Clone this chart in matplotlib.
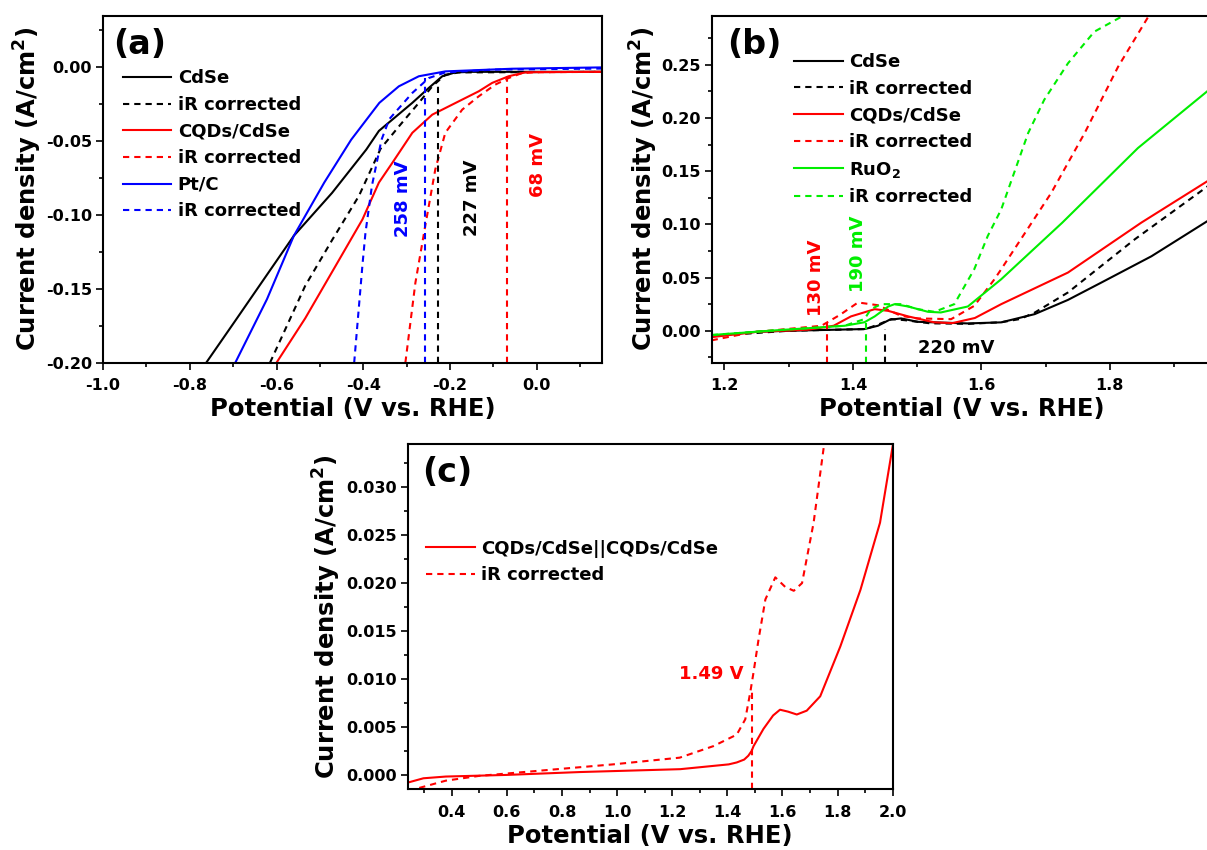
import matplotlib
matplotlib.use("Agg")
import matplotlib.pyplot as plt
from matplotlib.ticker import MultipleLocator, FormatStrFormatter

plt.rcParams['font.family'] = ['DejaVu Sans']
plt.rcParams['font.weight'] = 'bold'
plt.rcParams['axes.labelweight'] = 'bold'
plt.rcParams['axes.unicode_minus'] = False
plt.rcParams['mathtext.default'] = 'bf'

# ---- (a) HER polarisation curves ----
cdse_v = [-0.762, -0.696, -0.56, -0.472, -0.393, -0.364, -0.287, -0.249, -0.218, -0.188, -0.15, 0.15]
cdse_j = [-0.200, -0.172, -0.114, -0.085, -0.0556, -0.043, -0.024, -0.0139, -0.006, -0.0034, -0.003, -0.003]
cdse_ir_v = [-0.615, -0.534, -0.472, -0.410, -0.36, -0.318, -0.272, -0.241, -0.211, -0.18, 0.15]
cdse_ir_j = [-0.200, -0.148, -0.117, -0.087, -0.055, -0.040, -0.024, -0.0128, -0.005, -0.0034, -0.003]
cqd_v = [-0.600, -0.534, -0.463, -0.402, -0.364, -0.333, -0.287, -0.241, -0.172, -0.134, -0.103, -0.065, -0.027, 0.0, 0.15]
cqd_j = [-0.200, -0.170, -0.134, -0.103, -0.078, -0.0646, -0.0443, -0.032, -0.0218, -0.0162, -0.0105, -0.006, -0.0034, -0.0032, -0.003]
cqd_ir_v = [-0.303, -0.280, -0.257, -0.234, -0.211, -0.172, -0.134, -0.096, -0.065, -0.034, 0.0, 0.15]
cqd_ir_j = [-0.200, -0.146, -0.107, -0.069, -0.0443, -0.0286, -0.0196, -0.0117, -0.0072, -0.0038, -0.0033, -0.003]
ptc_v = [-0.695, -0.622, -0.56, -0.490, -0.428, -0.375, -0.363, -0.318, -0.272, -0.211, -0.057, 0.15]
ptc_j = [-0.200, -0.157, -0.114, -0.078, -0.049, -0.0286, -0.024, -0.0128, -0.006, -0.0027, -0.0009, 0.0]
ptc_ir_v = [-0.421, -0.402, -0.395, -0.380, -0.358, -0.340, -0.287, -0.249, -0.211, -0.10, 0.15]
ptc_ir_j = [-0.200, -0.134, -0.112, -0.080, -0.049, -0.035, -0.0173, -0.0072, -0.0034, -0.0015, -0.0008]
her_eta = [227, 68, 258]            # mV, CdSe / CQDs/CdSe / Pt/C
her_top = [-0.0095, -0.006, -0.007]

# ---- (b) OER polarisation curves ----
cdse_b_v = [1.18, 1.25, 1.30, 1.418, 1.439, 1.457, 1.475, 1.501, 1.579, 1.631, 1.683, 1.735, 1.787, 1.865, 1.96]
cdse_b_j = [-0.005, -0.001, 0.0, 0.0016, 0.0047, 0.0103, 0.0116, 0.0084, 0.0069, 0.0079, 0.0156, 0.029, 0.0453, 0.070, 0.106]
cdse_b_ir_v = [1.18, 1.30, 1.42, 1.44, 1.46, 1.48, 1.52, 1.58, 1.631, 1.66, 1.683, 1.735, 1.839, 1.96]
cdse_b_ir_j = [-0.005, 0.0, 0.0016, 0.006, 0.011, 0.010, 0.007, 0.0065, 0.008, 0.011, 0.017, 0.036, 0.0859, 0.139]
cqd_b_v = [1.18, 1.25, 1.33, 1.37, 1.397, 1.434, 1.455, 1.486, 1.527, 1.555, 1.59, 1.631, 1.735, 1.849, 1.96]
cqd_b_j = [-0.006, -0.001, 0.001, 0.0047, 0.0135, 0.0203, 0.0187, 0.0135, 0.0079, 0.0072, 0.012, 0.025, 0.0547, 0.1015, 0.1435]
cqd_b_ir_v = [1.18, 1.241, 1.351, 1.38, 1.408, 1.439, 1.475, 1.501, 1.553, 1.589, 1.620, 1.631, 1.709, 1.761, 1.813, 1.860, 1.865]
cqd_b_ir_j = [-0.009, -0.0016, 0.0047, 0.015, 0.0266, 0.024, 0.014, 0.0116, 0.0109, 0.0234, 0.048, 0.0578, 0.1296, 0.1858, 0.248, 0.295, 0.30]
ruo2_v = [1.18, 1.27, 1.387, 1.418, 1.434, 1.455, 1.465, 1.486, 1.517, 1.537, 1.579, 1.631, 1.726, 1.844, 1.96]
ruo2_j = [-0.004, 0.0, 0.0047, 0.008, 0.0135, 0.0228, 0.025, 0.0228, 0.0178, 0.0172, 0.0228, 0.0484, 0.1015, 0.1717, 0.229]
ruo2_ir_v = [1.18, 1.27, 1.387, 1.418, 1.428, 1.444, 1.475, 1.501, 1.527, 1.558, 1.589, 1.610, 1.631, 1.673, 1.698, 1.735, 1.776, 1.818, 1.83]
ruo2_ir_j = [-0.004, 0.0, 0.0047, 0.011, 0.0203, 0.025, 0.025, 0.0203, 0.0178, 0.025, 0.0578, 0.089, 0.114, 0.1858, 0.217, 0.2513, 0.281, 0.295, 0.30]
oer_eta = [220, 130, 190]           # mV, CdSe / CQDs/CdSe / RuO2
oer_top = [0.002, 0.008, 0.010]

# ---- (c) two-electrode cell ----
cell_v = [0.24, 0.297, 0.378, 0.598, 0.865, 1.229, 1.405, 1.434, 1.461, 1.476, 1.488, 1.495, 1.531, 1.566, 1.591,
          1.62, 1.652, 1.688, 1.737, 1.81, 1.883, 1.954, 2.0]
cell_j = [-0.0008, -0.00035, -0.00017, 0.0, 0.0003, 0.0006, 0.0011, 0.0013, 0.0016, 0.002, 0.0025, 0.003, 0.0048,
          0.0062, 0.0068, 0.0066, 0.0063, 0.0067, 0.0082, 0.0134, 0.0193, 0.0263, 0.0343]
cell_ir_v = [0.255, 0.276, 0.378, 0.499, 0.621, 0.742, 0.985, 1.227, 1.349, 1.434, 1.465, 1.483, 1.495, 1.513,
             1.538, 1.574, 1.61, 1.641, 1.671, 1.713, 1.749, 1.755]
cell_ir_j = [-0.0022, -0.0014, -0.0006, -0.0001, 0.0002, 0.0005, 0.0011, 0.0018, 0.003, 0.0042, 0.0058, 0.0086,
             0.0107, 0.0141, 0.0183, 0.0206, 0.0196, 0.0192, 0.020, 0.0263, 0.034, 0.035]
cell_onset = 1.49

GREEN = '#00ee00'
DASH = (0, (3, 2.4))
LW = 1.5
TICK = 11.5
LAB = 17.5


def style(ax, xmaj, xmin, ymaj, ymin):
    for s in ax.spines.values():
        s.set_linewidth(1.5)
    ax.xaxis.set_major_locator(MultipleLocator(xmaj))
    ax.xaxis.set_minor_locator(MultipleLocator(xmin))
    ax.yaxis.set_major_locator(MultipleLocator(ymaj))
    ax.yaxis.set_minor_locator(MultipleLocator(ymin))
    ax.tick_params(which='major', direction='out', length=5, width=1.2, labelsize=TICK, pad=3)
    ax.tick_params(which='minor', direction='out', length=3, width=1.2)
    ax.tick_params(axis='x', which='major', pad=6)
    ax.tick_params(top=False, right=False)
    ax.set_xlabel('Potential (V vs. RHE)', fontsize=LAB, labelpad=3)
    ax.set_ylabel('Current density (A/cm$^2$)', fontsize=LAB, labelpad=2)


def legend(ax, x, y):
    ax.legend(loc='upper left', bbox_to_anchor=(x, y), frameon=False, fontsize=13, borderpad=0,
              borderaxespad=0, handlelength=2.7, handletextpad=0.35, labelspacing=0.48)


fig = plt.figure(figsize=(12.07, 8.5), dpi=100)

# (a)
ax = fig.add_axes([0.0853, 0.5733, 0.4134, 0.4082])
ax.plot(cdse_v, cdse_j, color='black', lw=LW, label='CdSe')
ax.plot(cdse_ir_v, cdse_ir_j, color='black', lw=LW, ls=DASH, label='iR corrected')
ax.plot(cqd_v, cqd_j, color='red', lw=LW, label='CQDs/CdSe')
ax.plot(cqd_ir_v, cqd_ir_j, color='red', lw=LW, ls=DASH, label='iR corrected')
ax.plot(ptc_v, ptc_j, color='blue', lw=LW, label='Pt/C')
ax.plot(ptc_ir_v, ptc_ir_j, color='blue', lw=LW, ls=DASH, label='iR corrected')
for eta, top, c in zip(her_eta, her_top, ['black', 'red', 'blue']):
    ax.plot([-eta / 1000, -eta / 1000], [-0.2, top], color=c, lw=LW, ls=DASH)
ax.text(-0.309, -0.089, '258 mV', color='blue', rotation=90, fontsize=13, ha='center', va='center')
ax.text(-0.149, -0.088, '227 mV', color='black', rotation=90, fontsize=13, ha='center', va='center')
ax.text(0.003, -0.066, '68 mV', color='red', rotation=90, fontsize=13, ha='center', va='center')
ax.set_xlim(-1.0, 0.15)
ax.set_ylim(-0.2, 0.035)
style(ax, 0.2, 0.1, 0.05, 0.025)
ax.yaxis.labelpad = 1
legend(ax, 0.0395, 0.846)
ax.text(0.02, 0.965, '(a)', transform=ax.transAxes, fontsize=24, va='top', ha='left')

# (b)
ax = fig.add_axes([0.5896, 0.5733, 0.4149, 0.4082])
ax.plot(cdse_b_v, cdse_b_j, color='black', lw=LW, label='CdSe')
ax.plot(cdse_b_ir_v, cdse_b_ir_j, color='black', lw=LW, ls=DASH, label='iR corrected')
ax.plot(cqd_b_v, cqd_b_j, color='red', lw=LW, label='CQDs/CdSe')
ax.plot(cqd_b_ir_v, cqd_b_ir_j, color='red', lw=LW, ls=DASH, label='iR corrected')
ax.plot(ruo2_v, ruo2_j, color=GREEN, lw=LW, label='RuO$_2$')
ax.plot(ruo2_ir_v, ruo2_ir_j, color=GREEN, lw=LW, ls=DASH, label='iR corrected')
for eta, top, c in zip(oer_eta, oer_top, ['black', 'red', GREEN]):
    x = 1.23 + eta / 1000
    ax.plot([x, x], [-0.03, top], color=c, lw=LW, ls=DASH)
ax.text(1.343, 0.050, '130 mV', color='red', rotation=90, fontsize=13, ha='center', va='center')
ax.text(1.408, 0.072, '190 mV', color=GREEN, rotation=90, fontsize=13, ha='center', va='center')
ax.text(1.561, -0.016, '220 mV', color='black', fontsize=13, ha='center', va='center')
ax.set_xlim(1.18, 1.96)
ax.set_ylim(-0.03, 0.296)
style(ax, 0.2, 0.1, 0.05, 0.025)
ax.yaxis.labelpad = 1
legend(ax, 0.164, 0.893)
ax.text(0.03, 0.965, '(b)', transform=ax.transAxes, fontsize=24, va='top', ha='left')

# (c)
ax = fig.add_axes([0.3378, 0.0714, 0.4018, 0.4062])
ax.plot(cell_v, cell_j, color='red', lw=LW, label='CQDs/CdSe||CQDs/CdSe')
ax.plot(cell_ir_v, cell_ir_j, color='red', lw=LW, ls=DASH, label='iR corrected')
ax.plot([cell_onset, cell_onset], [-0.0015, 0.009], color='red', lw=LW, ls=DASH)
ax.text(cell_onset - 0.03, 0.0105, '%.2f V' % cell_onset, color='red', fontsize=13, ha='right', va='center')
ax.set_xlim(0.24, 2.0)
ax.set_ylim(-0.0015, 0.0345)
style(ax, 0.2, 0.1, 0.005, 0.0025)
ax.xaxis.set_major_formatter(FormatStrFormatter('%.1f'))
ax.yaxis.set_major_formatter(FormatStrFormatter('%.3f'))
legend(ax, 0.038, 0.723)
ax.text(0.03, 0.965, '(c)', transform=ax.transAxes, fontsize=24, va='top', ha='left')

fig.savefig('out.png', dpi=100)
